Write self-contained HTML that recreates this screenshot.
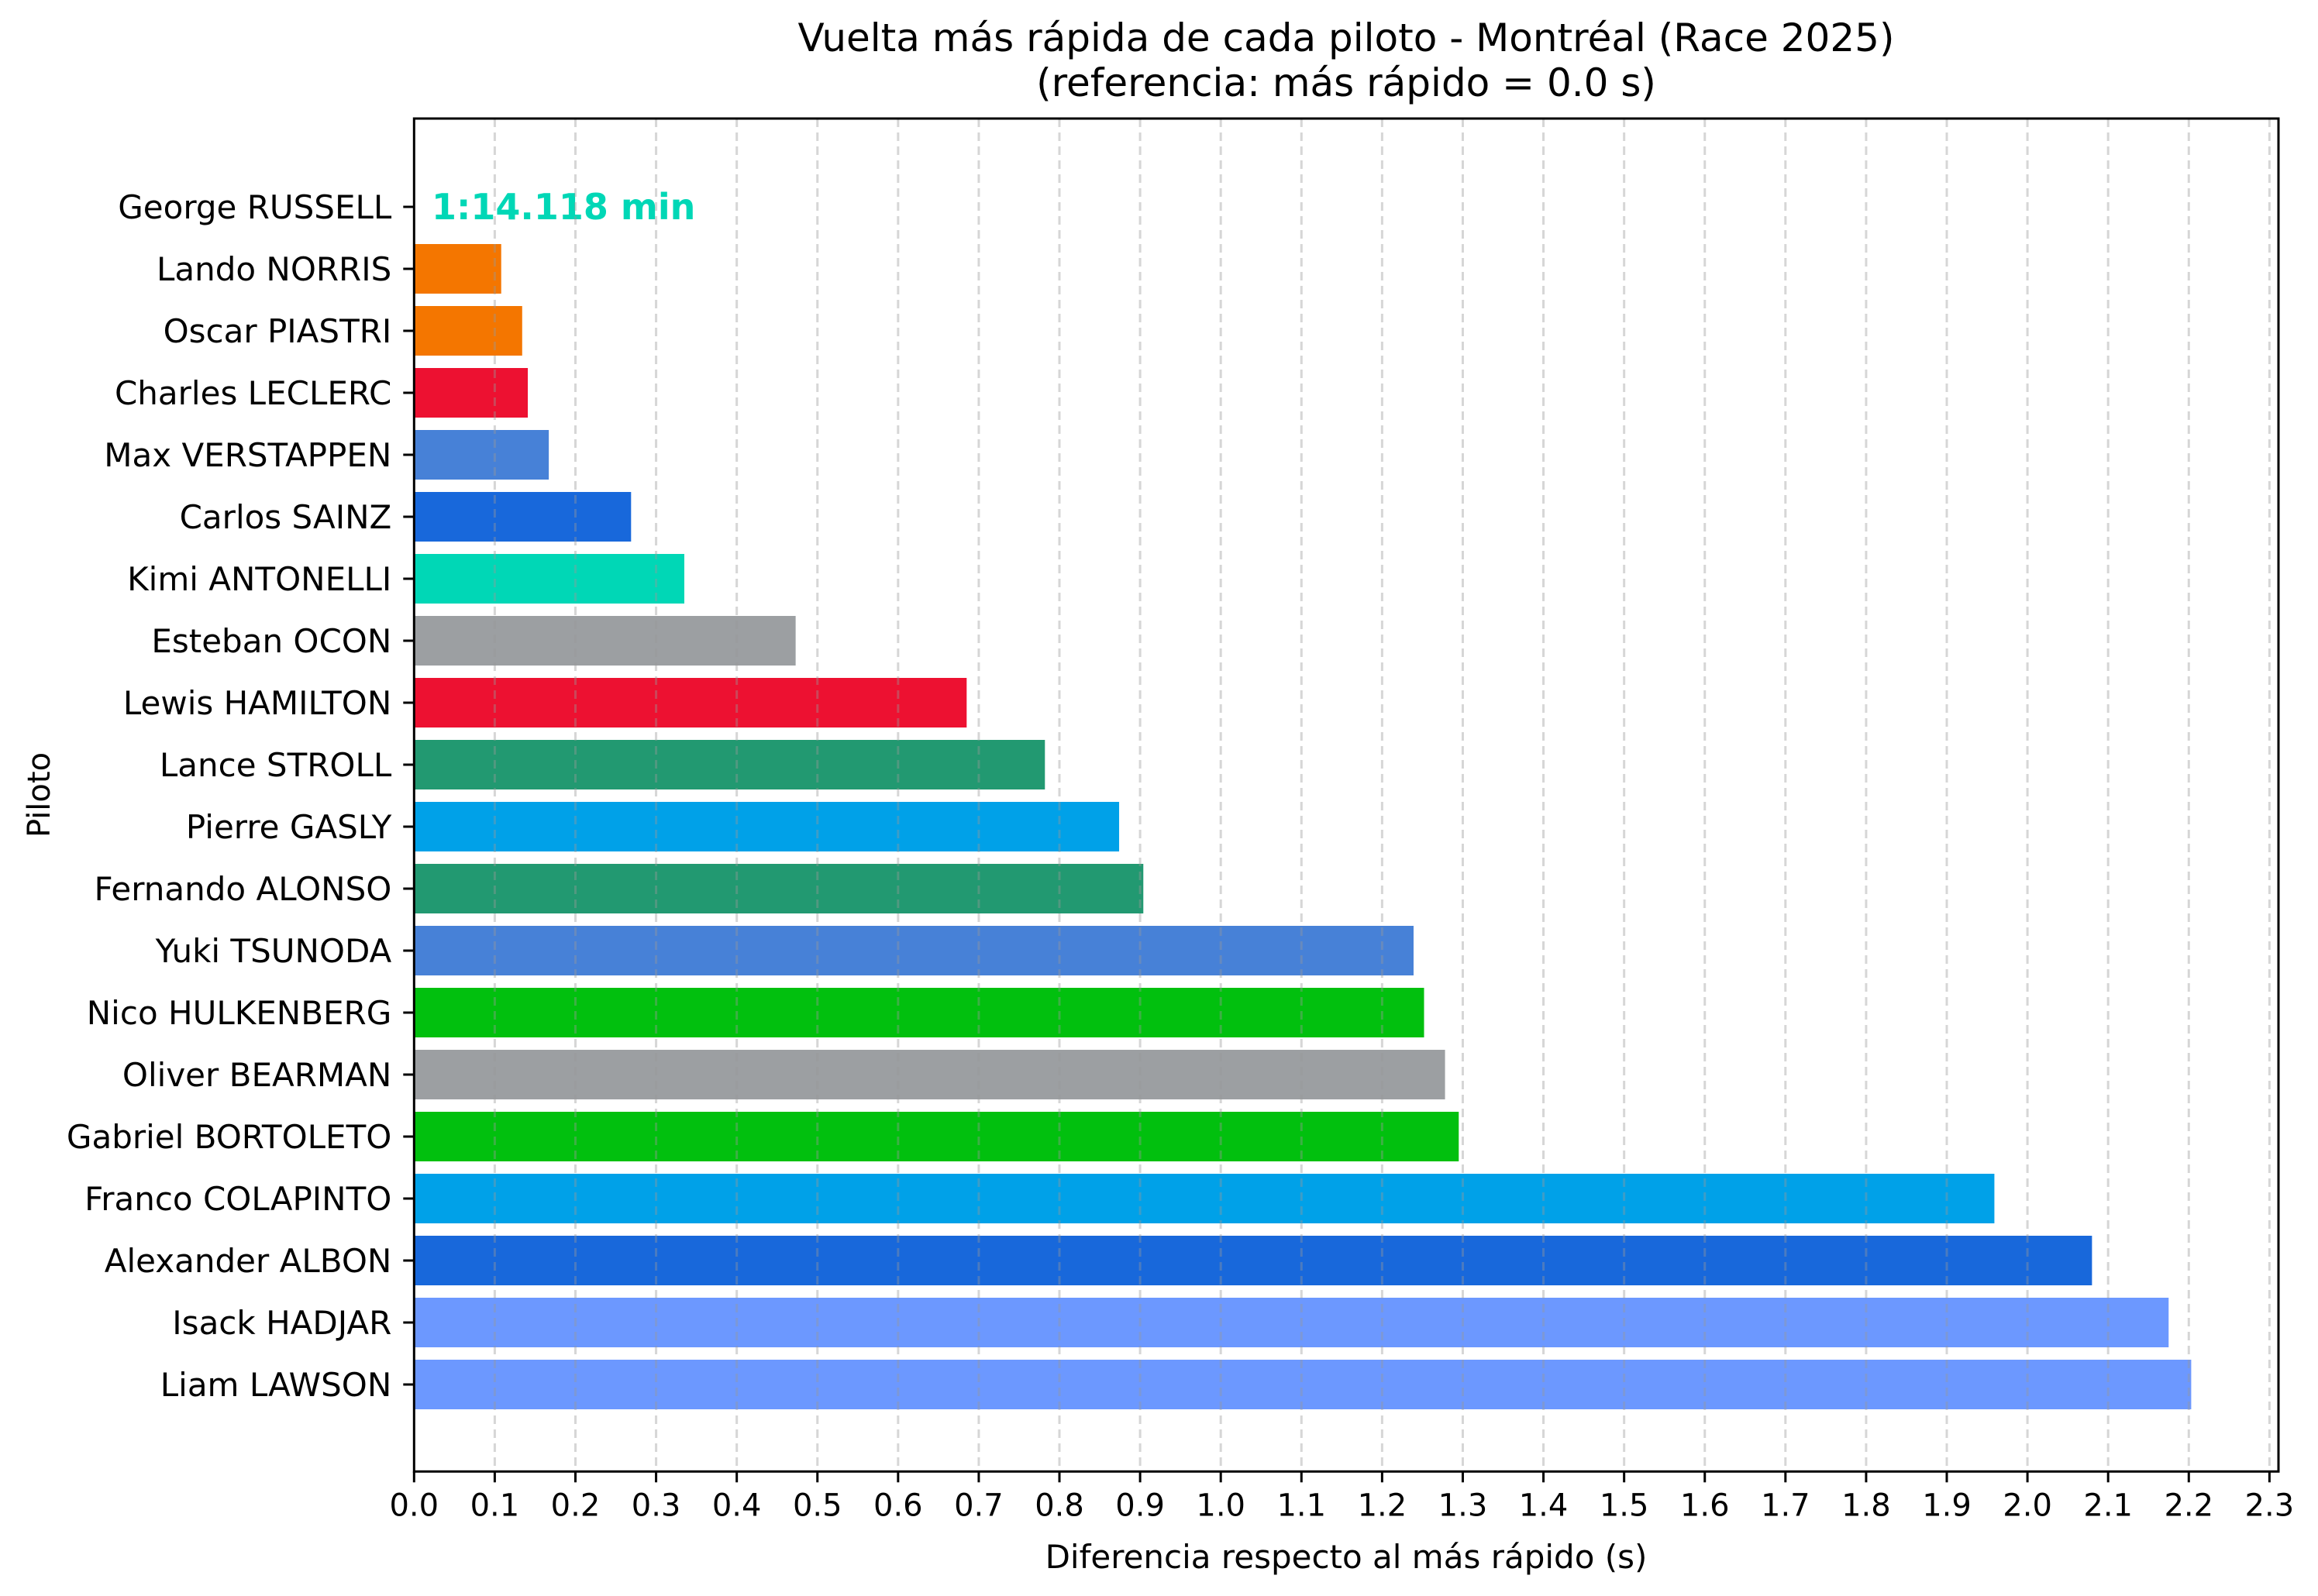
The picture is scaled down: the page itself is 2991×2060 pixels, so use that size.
<!DOCTYPE html>
<html><head><meta charset="utf-8">
<style>
html,body{margin:0;padding:0;background:#fff;}
svg{display:block;font-family:"DejaVu Sans","Liberation Sans",sans-serif;}
</style></head>
<body>
<svg id="chart" width="2991" height="2060" viewBox="0 0 2991 2060" xmlns="http://www.w3.org/2000/svg">
<rect x="0" y="0" width="2991" height="2060" fill="#fff"/>
<text x="1737" y="66" font-size="50" text-anchor="middle" fill="#000">Vuelta más rápida de cada piloto - Montréal (Race 2025)</text>
<text x="1737" y="124" font-size="50" text-anchor="middle" fill="#000">(referencia: más rápido = 0.0 s)</text>
<g id="grid"></g>
<g id="bars"></g>
<g id="gridtop"></g>
<g id="axes"></g>
<text x="1737" y="2024" font-size="42" text-anchor="middle" fill="#000">Diferencia respecto al más rápido (s)</text>
<text x="0" y="0" font-size="40" text-anchor="middle" fill="#000" transform="translate(64,1026) rotate(-90)">Piloto</text>
</svg>
<script>
const drivers = ["George RUSSELL","Lando NORRIS","Oscar PIASTRI","Charles LECLERC","Max VERSTAPPEN","Carlos SAINZ","Kimi ANTONELLI","Esteban OCON","Lewis HAMILTON","Lance STROLL","Pierre GASLY","Fernando ALONSO","Yuki TSUNODA","Nico HULKENBERG","Oliver BEARMAN","Gabriel BORTOLETO","Franco COLAPINTO","Alexander ALBON","Isack HADJAR","Liam LAWSON"];
const gaps = [0,0.108,0.134,0.141,0.167,0.269,0.335,0.473,0.685,0.782,0.874,0.904,1.239,1.252,1.278,1.295,1.959,2.080,2.175,2.203];
const teamColors = ["#00D7B6","#F47600","#F47600","#ED1131","#4781D7","#1868DB","#00D7B6","#9C9FA2","#ED1131","#229971","#00A1E8","#229971","#4781D7","#01C00E","#9C9FA2","#01C00E","#00A1E8","#1868DB","#6C98FF","#6C98FF"];
const xTicks = [0,0.1,0.2,0.3,0.4,0.5,0.6,0.7,0.8,0.9,1.0,1.1,1.2,1.3,1.4,1.5,1.6,1.7,1.8,1.9,2.0,2.1,2.2,2.3];
const fastestLabel = "1:14.118 min";

const NS="http://www.w3.org/2000/svg";
const L=534.3, R=2940, T=153, B=1899.3;
const xScale=v=>L+v*1040.9;
const step=80, firstCenter=267;
const yScale=i=>firstCenter+i*step;
const barH=64;
function mk(tag,attrs,parent){const e=document.createElementNS(NS,tag);for(const k in attrs)e.setAttribute(k,attrs[k]);parent.appendChild(e);return e;}

const bars=document.getElementById('bars');
drivers.forEach((d,i)=>{
  if(gaps[i]<=0) return;
  const r=mk('rect',{x:xScale(0),y:yScale(i)-barH/2,width:xScale(gaps[i])-xScale(0),height:barH,fill:teamColors[i]},bars);
  
  
});
const ann=mk('text',{x:557,y:yScale(0)+16,'font-size':46,'font-weight':'bold',fill:'#00D7B6'},bars);
ann.textContent=fastestLabel;



const gt=document.getElementById('gridtop');
xTicks.forEach(v=>{
  if(v===0) return;
  const g=mk('line',{x1:xScale(v),x2:xScale(v),y1:T,y2:B,stroke:'#999','stroke-opacity':0.4,'stroke-width':3,'stroke-dasharray':'11 7'},gt);
  
  
});

const ax=document.getElementById('axes');
const frame=mk('rect',{x:L,y:T,width:R-L,height:B-T,fill:'none',stroke:'#000','stroke-width':3},ax);


xTicks.forEach(v=>{
  const x=xScale(v);
  const t=mk('line',{x1:x,x2:x,y1:B,y2:B+14,stroke:'#000','stroke-width':3},ax);
  
  
  const lb=mk('text',{x:x,y:B+57,'font-size':40,'text-anchor':'middle',fill:'#000'},ax);
  lb.textContent=v.toFixed(1);
  
  
});
drivers.forEach((d,i)=>{
  const y=yScale(i);
  const t=mk('line',{x1:L-14,x2:L,y1:y,y2:y,stroke:'#000','stroke-width':3},ax);
  
  
  const lb=mk('text',{x:L-29,y:y+15,'font-size':42,'text-anchor':'end',fill:'#000'},ax);
  lb.textContent=d;
  
  
});
</script>
</body></html>
